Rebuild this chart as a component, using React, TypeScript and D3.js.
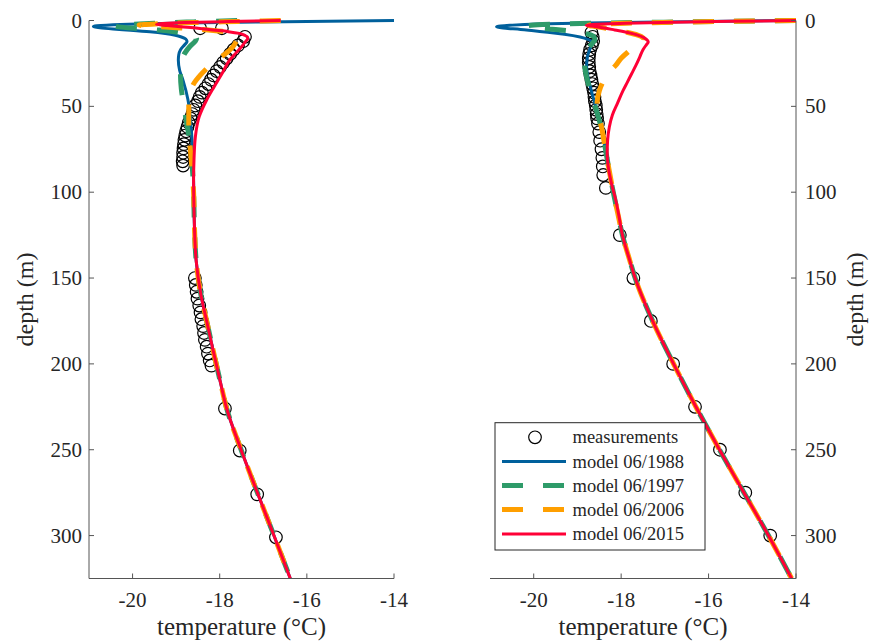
import React from 'react';
import * as d3 from 'd3';

type P = [number, number]; // [depth (m), temperature (°C)]

const depthTicks = [0, 50, 100, 150, 200, 250, 300];
const tempTicks = [-20, -18, -16, -14];
const legendLabels = ['measurements', 'model 06/1988', 'model 06/1997', 'model 06/2006', 'model 06/2015'];

// ---------- left panel ----------
const leftMeas: P[] = [
  [4.5, -18.45], [4.5, -17.95],
  [9.5, -17.42], [12, -17.46], [14.5, -17.58], [17, -17.68], [19.5, -17.76], [22, -17.84], [24.5, -17.92],
  [27, -17.99], [29.5, -18.07], [32, -18.14], [34.5, -18.2], [37, -18.26], [39.5, -18.33], [42, -18.41],
  [44.5, -18.46], [47, -18.5], [49.5, -18.56], [52, -18.6], [54.5, -18.63], [57, -18.67], [59.5, -18.71],
  [62, -18.74], [64.5, -18.77], [67, -18.79], [69.5, -18.81], [72, -18.82], [74.5, -18.83], [77, -18.84],
  [79.5, -18.84], [82, -18.85], [84.5, -18.84],
  [150, -18.57], [154, -18.55], [158, -18.53], [162, -18.51], [166, -18.47], [170, -18.44], [174, -18.42],
  [178, -18.38], [182, -18.36], [186, -18.34], [190, -18.3], [194, -18.27], [198, -18.23], [201, -18.19],
  [226, -17.88], [250.5, -17.54], [276, -17.14], [301, -16.71],
];
const leftDeep: P[] = [
  [120, -18.58], [140, -18.54], [160, -18.43], [175, -18.3], [190, -18.17], [210, -17.99], [226, -17.84],
  [250, -17.51], [276, -17.12], [301, -16.74], [325, -16.38],
];
const left1988: P[] = [
  [0, -14], [0.7, -16.5], [1.4, -18.8], [2, -19.9], [2.7, -20.6], [3.5, -20.9], [4.3, -20.75], [5, -20.45],
  [5.7, -20.05], [6.6, -19.6], [7.6, -19.25], [8.6, -19.02], [9.6, -18.88], [10.8, -18.78], [12.3, -18.75],
  [14, -18.8], [17, -18.9], [20, -18.94], [23, -18.95], [29, -18.92], [35, -18.84], [46, -18.73], [58, -18.67],
  [72, -18.63], [93, -18.6],
];
const left1997: P[] = [
  [0, -17.6], [0.8, -18.6], [1.6, -19.5], [2.4, -20.1], [3.2, -20.4], [4, -20.2], [4.8, -19.8], [5.6, -19.4],
  [6.6, -19.05], [7.8, -18.8], [9, -18.62], [10.4, -18.53], [12, -18.56], [15, -18.68], [19, -18.8], [25, -18.88],
  [32, -18.9], [40, -18.88], [50, -18.82], [58, -18.77], [70, -18.69], [85, -18.63], [100, -18.6],
];
const left2006: P[] = [
  [0, -16.6], [0.6, -17.6], [1.2, -18.6], [1.9, -19.4], [2.6, -19.85], [3.3, -19.6], [4.2, -19.0], [5.2, -18.4],
  [6.3, -17.95], [7.5, -17.72], [9, -17.62], [10.5, -17.6], [13, -17.64], [16, -17.72], [20, -17.9], [23, -18.08],
  [28, -18.3], [32, -18.45], [37, -18.6], [42, -18.68], [50, -18.71], [60, -18.71], [70, -18.69], [85, -18.64],
  [100, -18.6],
];
const left2015: P[] = [
  [0, -16.6], [0.6, -17.8], [1.2, -18.8], [1.8, -19.3], [2.3, -19.45], [2.9, -19.2], [3.6, -18.9], [4.5, -18.5],
  [5.5, -18.16], [6.5, -17.8], [7.5, -17.55], [8.7, -17.42], [9.8, -17.36], [10.8, -17.36], [12, -17.4],
  [15.3, -17.5], [19, -17.63], [23, -17.77], [30.6, -17.94], [38.7, -18.13], [46.3, -18.3], [56, -18.47],
  [68, -18.56], [81, -18.59], [93, -18.6], [110, -18.59],
];

// ---------- right panel ----------
const rightMeas: P[] = [
  [7, -18.68], [9.5, -18.65], [12, -18.64], [14.5, -18.67], [17, -18.71], [19.5, -18.73], [22, -18.74],
  [24.5, -18.74], [27, -18.73], [29.5, -18.72], [32, -18.7], [34.5, -18.68], [37, -18.66], [39.5, -18.64],
  [42, -18.62], [44.5, -18.61], [47, -18.6], [49.5, -18.58], [52, -18.57], [54.5, -18.56], [57, -18.55],
  [60, -18.53], [65, -18.5], [70, -18.48], [75, -18.45], [80, -18.43], [85, -18.42], [90, -18.41],
  [97.5, -18.35], [125, -18.03], [150, -17.72], [175, -17.32], [200, -16.81], [225, -16.31], [250, -15.74],
  [275, -15.16], [300, -14.59],
];
const rightDeep: P[] = [
  [125, -17.97], [140, -17.8], [150, -17.68], [175, -17.28], [200, -16.8], [225, -16.29], [250, -15.75],
  [275, -15.19], [300, -14.63], [325, -14.1],
];
const rightMid: P[] = [[72, -18.38], [85, -18.29], [100, -18.18], [112, -18.08]];
const right1988: P[] = [
  [0, -14], [0.7, -16.5], [1.4, -18.8], [2, -19.9], [2.8, -20.55], [3.6, -20.85], [4.4, -20.7], [5.2, -20.3],
  [6, -20.0], [6.8, -19.68], [8, -19.3], [9.6, -18.94], [11, -18.76], [12.3, -18.68], [14, -18.68], [17, -18.72],
  [21, -18.77], [27, -18.79], [34, -18.75], [42, -18.67], [52, -18.56], [62, -18.45],
];
const right1997: P[] = [
  [0, -14], [0.8, -16.5], [1.6, -18.7], [2.4, -19.8], [3.2, -20.15], [4.2, -19.95], [5.2, -19.5], [6.5, -19.05],
  [8, -18.75], [9.5, -18.62], [11, -18.6], [13, -18.65], [16, -18.75], [21, -18.82], [27, -18.83], [34, -18.78],
  [42, -18.69], [52, -18.57], [62, -18.46],
];
const right2006: P[] = [
  [0, -14], [0.5, -15.5], [1, -16.8], [1.6, -17.9], [2.2, -18.55], [2.8, -18.75], [3.5, -18.6], [4.5, -18.35],
  [5.5, -18.15], [7, -17.85], [8.5, -17.62], [10, -17.5], [11.5, -17.47], [13, -17.55], [15.5, -17.7],
  [18.5, -17.85], [22, -18.0], [26, -18.12], [30, -18.27], [35, -18.4], [41, -18.5], [48, -18.55], [55, -18.52],
  [62, -18.45],
];
const right2015: P[] = [
  [0, -14], [0.5, -15.5], [1, -16.8], [1.6, -17.9], [2.2, -18.6], [2.8, -18.8], [3.5, -18.6], [4.5, -18.35],
  [5.5, -18.15], [7, -17.85], [8.5, -17.62], [10, -17.48], [11.5, -17.4], [12.5, -17.38], [14, -17.42],
  [17, -17.5], [21, -17.57], [26, -17.66], [31, -17.76], [36, -17.86], [41, -17.96], [48, -18.08], [55, -18.2],
  [62, -18.27], [70, -18.31], [78, -18.32], [86, -18.29], [95, -18.22], [105, -18.12], [114, -18.05],
];

const colors = ['#00609c', '#2e9b69', '#ff9f00', '#ff0036'];
const dashed = [false, true, true, false];
const widths = [3, 5, 5, 3];
const DASH = '21 20';

const FONT = '"Liberation Serif", "Times New Roman", serif';
const AXIS = '#555555';
const TEXT = '#262626';

const W = 869;
const H = 642;
const TOP = 20.5;
const BOTTOM = 578.5;

const y = d3.scaleLinear().domain([0, 325]).range([TOP, BOTTOM]);

interface PanelProps {
  id: string;
  x0: number;
  x1: number;
  side: 'left' | 'right';
  meas: P[];
  series: P[][];
}

function Panel({ id, x0, x1, side, meas, series }: PanelProps) {
  const x = d3.scaleLinear().domain([-21, -14]).range([x0, x1]);
  const line = d3
    .line<P>()
    .x((p) => x(p[1]))
    .y((p) => y(p[0]))
    .curve(d3.curveMonotoneY);
  const axisX = side === 'left' ? x0 : x1;
  const tickDir = side === 'left' ? 1 : -1;
  const midX = (x0 + x1) / 2;
  return (
    <g>
      <defs>
        <clipPath id={id}>
          <rect x={x0 - 10} y={0} width={x1 - x0 + 20} height={BOTTOM} />
        </clipPath>
      </defs>
      <g>
        {meas.map((p, i) => (
          <circle key={i} cx={x(p[1])} cy={y(p[0])} r={6.3} fill="none" stroke="#000" strokeWidth={1.2} />
        ))}
      </g>
      <g clipPath={`url(#${id})`}>
        {series.map((s, i) => (
          <path
            key={i}
            d={line(s) || ''}
            fill="none"
            stroke={colors[i]}
            strokeWidth={widths[i]}
            strokeDasharray={dashed[i] ? DASH : undefined}
            strokeLinejoin="round"
          />
        ))}
      </g>
      <line x1={x0} x2={x1} y1={BOTTOM} y2={BOTTOM} stroke={AXIS} strokeWidth={1} />
      <line x1={axisX} x2={axisX} y1={TOP} y2={BOTTOM} stroke={AXIS} strokeWidth={1} />
      {tempTicks.map((t) => (
        <g key={t}>
          <line x1={x(t)} x2={x(t)} y1={BOTTOM} y2={BOTTOM - 5} stroke={AXIS} strokeWidth={1} />
          <text x={x(t)} y={607} textAnchor="middle" fontFamily={FONT} fontSize={21} fill={TEXT}>
            {t < 0 ? '-' + Math.abs(t) : String(t)}
          </text>
        </g>
      ))}
      {depthTicks.map((d) => (
        <g key={d}>
          <line x1={axisX} x2={axisX + 5 * tickDir} y1={y(d)} y2={y(d)} stroke={AXIS} strokeWidth={1} />
          <text
            x={side === 'left' ? axisX - 7 : axisX + 9}
            y={y(d) + 7}
            textAnchor={side === 'left' ? 'end' : 'start'}
            fontFamily={FONT}
            fontSize={21}
            fill={TEXT}
          >
            {d}
          </text>
        </g>
      ))}
      <text x={midX} y={635} textAnchor="middle" fontFamily={FONT} fontSize={25} fill={TEXT}>
        temperature (°C)
      </text>
      <text
        transform={`translate(${side === 'left' ? 33 : 863},${(TOP + BOTTOM) / 2}) rotate(-90)`}
        textAnchor="middle"
        fontFamily={FONT}
        fontSize={24}
        fill={TEXT}
      >
        depth (m)
      </text>
    </g>
  );
}

function Legend() {
  const bx = 495;
  const by = 422.7;
  const bw = 210;
  const bh = 127.3;
  const rows = [437.3, 461.5, 485.5, 509.5, 534];
  return (
    <g>
      <rect x={bx} y={by} width={bw} height={bh} fill="#fff" stroke="#262626" strokeWidth={1} />
      {legendLabels.map((lab, i) => (
        <g key={lab}>
          {i === 0 ? (
            <circle cx={535} cy={rows[i]} r={6.3} fill="none" stroke="#000" strokeWidth={1.2} />
          ) : (
            <line
              x1={502}
              x2={566}
              y1={rows[i]}
              y2={rows[i]}
              stroke={colors[i - 1]}
              strokeWidth={widths[i - 1]}
              strokeDasharray={dashed[i - 1] ? DASH : undefined}
            />
          )}
          <text x={572.5} y={rows[i] + 6} fontFamily={FONT} fontSize={18.5} fill={TEXT}>
            {lab}
          </text>
        </g>
      ))}
    </g>
  );
}

export default function App() {
  const leftSeries = [
    left1988.concat(leftDeep),
    left1997.concat(leftDeep),
    left2006.concat(leftDeep),
    left2015.concat(leftDeep),
  ];
  const rightSeries = [
    right1988.concat(rightMid, rightDeep),
    right1997.concat(rightMid, rightDeep),
    right2006.concat(rightMid, rightDeep),
    right2015.concat(rightDeep),
  ];
  return (
    <svg
      width={W}
      height={H}
      viewBox={`0 0 ${W} ${H}`}
      style={{ position: 'absolute', left: 0, top: 0, background: '#fff' }}
    >
      <rect x={0} y={0} width={W} height={H} fill="#fff" />
      <Panel id="clipL" x0={89} x1={394} side="left" meas={leftMeas} series={leftSeries} />
      <Panel id="clipR" x0={490} x1={796} side="right" meas={rightMeas} series={rightSeries} />
      <Legend />
    </svg>
  );
}
